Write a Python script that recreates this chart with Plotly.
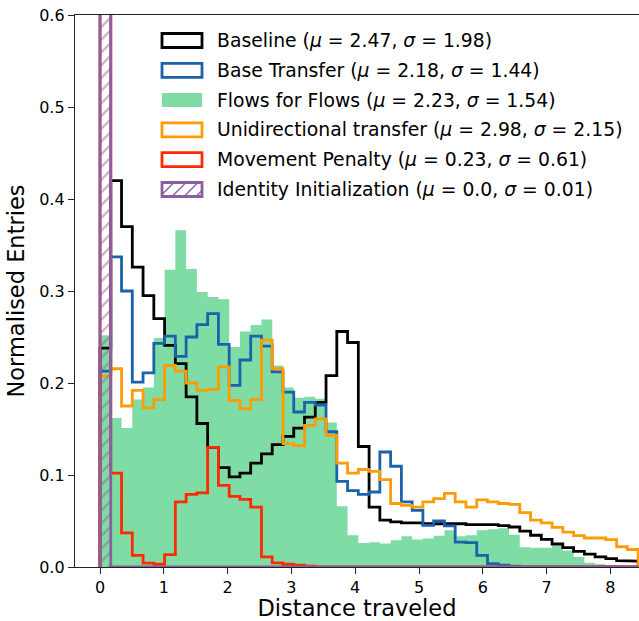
import numpy as np
import plotly.graph_objects as go

# ---------------- data (density-normalised histograms, 50 bins) ----------------
bin_width = 0.1687
n_bins = 50

baseline = [0.238, 0.420, 0.370, 0.326, 0.295, 0.270, 0.241, 0.221, 0.185, 0.156,
            0.130, 0.108, 0.098, 0.102, 0.113, 0.123, 0.133, 0.142, 0.151, 0.163,
            0.179, 0.208, 0.256, 0.244, 0.131, 0.065, 0.051, 0.049, 0.048, 0.048,
            0.047, 0.047, 0.047, 0.047, 0.046, 0.046, 0.046, 0.045, 0.0435, 0.039,
            0.0345, 0.030, 0.025, 0.021, 0.017, 0.014, 0.011, 0.009, 0.007, 0.0065]

base_transfer = [0.213, 0.337, 0.300, 0.201, 0.211, 0.243, 0.251, 0.229, 0.250, 0.2635,
                 0.2755, 0.242, 0.1975, 0.225, 0.251, 0.240, 0.212, 0.190, 0.1685, 0.179,
                 0.176, 0.147, 0.093, 0.083, 0.079, 0.0815, 0.125, 0.1095, 0.0707, 0.0616,
                 0.0453, 0.050, 0.0446, 0.027, 0.0265, 0.0127, 0.0037, 0.002, 0.001, 0.0,
                 0.0, 0.0, 0.0, 0.0, 0.0, 0.0, 0.0, 0.0, 0.0, 0.0]

flows_for_flows = [0.252, 0.162, 0.151, 0.182, 0.195, 0.249, 0.323, 0.366, 0.324, 0.299,
                   0.2935, 0.291, 0.239, 0.256, 0.263, 0.269, 0.219, 0.195, 0.184, 0.185,
                   0.183, 0.157, 0.066, 0.0345, 0.026, 0.027, 0.0255, 0.029, 0.0334, 0.030,
                   0.031, 0.034, 0.040, 0.0334, 0.0345, 0.040, 0.041, 0.042, 0.035, 0.0215,
                   0.021, 0.021, 0.023, 0.018, 0.011, 0.0045, 0.003, 0.002, 0.001, 0.0]

unidirectional = [0.2075, 0.2155, 0.175, 0.192, 0.173, 0.182, 0.219, 0.213, 0.200, 0.192,
                  0.193, 0.2175, 0.181, 0.172, 0.182, 0.2465, 0.2155, 0.134, 0.132, 0.154,
                  0.161, 0.143, 0.113, 0.102, 0.106, 0.104, 0.095, 0.069, 0.067, 0.065,
                  0.0707, 0.0743, 0.080, 0.0707, 0.065, 0.073, 0.0707, 0.069, 0.068, 0.059,
                  0.051, 0.048, 0.043, 0.038, 0.034, 0.0315, 0.0315, 0.0297, 0.022, 0.019]

# first bin runs far above the visible range (estimated from normalisation)
movement_penalty = [5.07, 0.102, 0.037, 0.0127, 0.0043, 0.003, 0.0135, 0.0707, 0.079, 0.0805,
                    0.130, 0.0888, 0.0768, 0.0735, 0.065, 0.011, 0.0045, 0.003, 0.002, 0.001,
                    0.0, 0.0, 0.0, 0.0, 0.0, 0.0, 0.0, 0.0, 0.0, 0.0,
                    0.0, 0.0, 0.0, 0.0, 0.0, 0.0, 0.0, 0.0, 0.0, 0.0,
                    0.0, 0.0, 0.0, 0.0, 0.0, 0.0, 0.0, 0.0, 0.0, 0.0]

identity_init = [5.93] + [0.0] * 49

labels = ["Baseline", "Base Transfer", "Flows for Flows", "Unidirectional transfer",
          "Movement Penalty", "Identity Initialization"]
means = ["2.47", "2.18", "2.23", "2.98", "0.23", "0.0"]
sigmas = ["1.98", "1.44", "1.54", "2.15", "0.61", "0.01"]

x_ticks = [0, 1, 2, 3, 4, 5, 6, 7, 8]
y_ticks = [0.0, 0.1, 0.2, 0.3, 0.4, 0.5, 0.6]

# ---------------- styling ----------------
C_BLACK = "#000000"
C_BLUE = "#1a62aa"
C_GREEN = "#7fdca5"
C_ORANGE = "#ff9b05"
C_RED = "#ff2a00"
C_PURPLE = "#8b5ea0"
LW = 2.8
FONT = "DejaVu Sans"

edges = np.arange(n_bins + 1) * bin_width


def step_path(values):
    v = np.asarray(values, dtype=float)
    xs = np.repeat(edges, 2)
    ys = np.concatenate([[0.0], np.repeat(v, 2), [0.0]])
    return xs, ys


fig = go.Figure()

# Flows for Flows (filled)
xs, ys = step_path(flows_for_flows)
fig.add_trace(go.Scatter(x=xs, y=ys, mode="lines", line=dict(width=0, color=C_GREEN),
                         fill="tozeroy", fillcolor=C_GREEN, showlegend=False,
                         name=labels[2]))

for vals, col, name in [(baseline, C_BLACK, labels[0]),
                        (base_transfer, C_BLUE, labels[1]),
                        (unidirectional, C_ORANGE, labels[3]),
                        (movement_penalty, C_RED, labels[4])]:
    xs, ys = step_path(vals)
    fig.add_trace(go.Scatter(x=xs, y=ys, mode="lines",
                             line=dict(width=LW, color=col), showlegend=False, name=name))

# Identity initialisation (hatched)
xs, ys = step_path(identity_init)
fig.add_trace(go.Scatter(x=xs, y=ys, mode="lines", line=dict(width=LW, color=C_PURPLE),
                         fill="tozeroy", fillcolor="rgba(0,0,0,0)",
                         fillpattern=dict(shape="/", fgcolor=C_PURPLE, bgcolor="rgba(0,0,0,0)",
                                          size=9, solidity=0.25),
                         showlegend=False, name=labels[5]))

# ---------------- layout ----------------
W, H = 639, 621
ML, MR, MT, MB = 75, 0, 15, 54
PW, PH = W - ML - MR, H - MT - MB


def px(xp):
    return (xp - ML) / PW


def py(yp):
    return (H - MB - yp) / PH


shapes = []
annotations = []
handle_x0, handle_x1 = 162, 202
text_x = 215
row0, row_step = 40.5, 29.8
styles = [
    dict(line=C_BLACK, fill="rgba(0,0,0,0)"),
    dict(line=C_BLUE, fill="rgba(0,0,0,0)"),
    dict(line=C_GREEN, fill=C_GREEN),
    dict(line=C_ORANGE, fill="rgba(0,0,0,0)"),
    dict(line=C_RED, fill="rgba(0,0,0,0)"),
    dict(line=C_PURPLE, fill="rgba(0,0,0,0)"),
]
for i, (lab, mu, sg) in enumerate(zip(labels, means, sigmas)):
    cy = row0 + i * row_step
    y0p, y1p = cy + 7, cy - 7
    st = styles[i]
    shapes.append(dict(type="rect", xref="paper", yref="paper",
                       x0=px(handle_x0), x1=px(handle_x1), y0=py(y0p), y1=py(y1p),
                       line=dict(color=st["line"], width=0 if i == 2 else LW),
                       fillcolor=st["fill"], layer="above"))
    if i == 5:
        segs = []
        h = 14.0
        s = handle_x0 - h
        while s < handle_x1:
            t0 = max(0.0, (handle_x0 - s) / h)
            t1 = min(1.0, (handle_x1 - s) / h)
            if t1 > t0:
                xa, ya = s + t0 * h, y0p - t0 * h
                xb, yb = s + t1 * h, y0p - t1 * h
                segs.append(f"M{px(xa):.5f},{py(ya):.5f} L{px(xb):.5f},{py(yb):.5f}")
            s += 12
        shapes.append(dict(type="path", xref="paper", yref="paper", path=" ".join(segs),
                           line=dict(color=C_PURPLE, width=1.3), layer="above"))
    annotations.append(dict(xref="paper", yref="paper", x=px(text_x), y=py(cy),
                            xanchor="left", yanchor="middle", showarrow=False,
                            text=f"{lab} (<i>μ</i> = {mu}, <i>σ</i> = {sg})",
                            font=dict(family=FONT, size=18.8, color="black")))

fig.update_layout(
    width=W, height=H,
    margin=dict(l=ML, r=MR, t=MT, b=MB, pad=0, autoexpand=False),
    paper_bgcolor="white", plot_bgcolor="white",
    font=dict(family=FONT, color="black"),
    showlegend=False,
    shapes=shapes, annotations=annotations,
    xaxis=dict(range=[-0.392, 8.448], tickvals=x_ticks, ticktext=[str(v) for v in x_ticks],
               showgrid=False, zeroline=False, showline=True, linecolor="#222", linewidth=1.3,
               mirror=True, ticks="outside", ticklen=6, tickwidth=1.2, tickcolor="#222",
               tickfont=dict(family=FONT, size=16, color="black"), automargin=False,
               title=dict(text="Distance traveled", font=dict(family=FONT, size=22.5, color="black"),
                          standoff=11)),
    yaxis=dict(range=[0, 0.6], tickvals=y_ticks, ticktext=[f"{v:.1f}" for v in y_ticks],
               showgrid=False, zeroline=False, showline=True, linecolor="#222", linewidth=1.3,
               mirror=False, ticks="outside", ticklen=6, tickwidth=1.2, tickcolor="#222",
               tickfont=dict(family=FONT, size=16, color="black"), automargin=False,
               title=dict(text="Normalised Entries", font=dict(family=FONT, size=22.5, color="black"),
                          standoff=8)),
)

fig.write_html("out.html")
